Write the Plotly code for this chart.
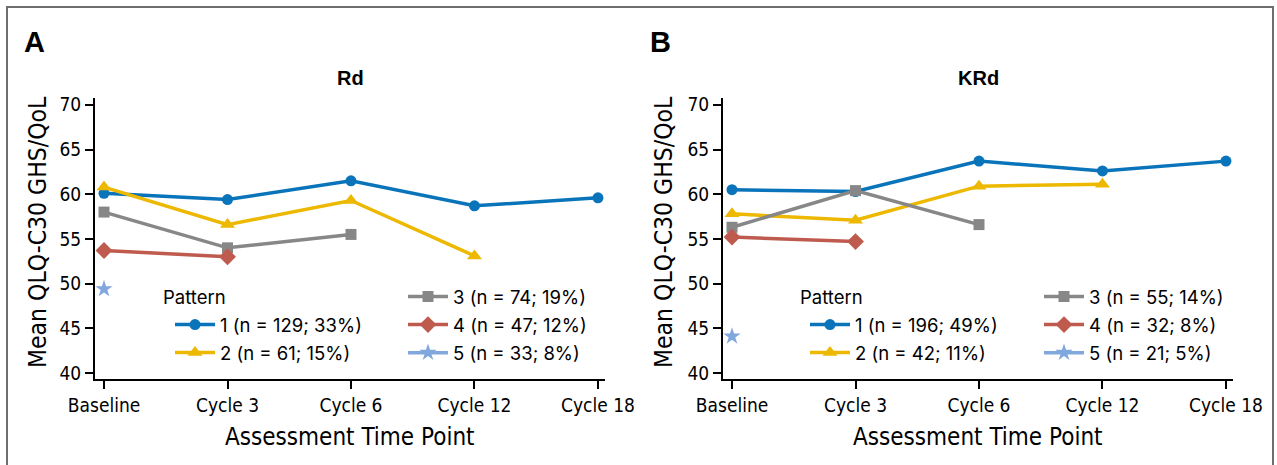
import plotly.graph_objects as go

# ---------------- data ----------------
timepoints = ["Baseline", "Cycle 3", "Cycle 6", "Cycle 12", "Cycle 18"]

# Panel A: Rd
rd_p1 = [60.1, 59.4, 61.5, 58.7, 59.6]
rd_p2 = [60.8, 56.6, 59.3, 53.1, None]
rd_p3 = [58.0, 54.0, 55.5, None, None]
rd_p4 = [53.7, 53.0, None, None, None]
rd_p5 = [49.4, None, None, None, None]
rd_labels = ["1 (n = 129; 33%)", "2 (n = 61; 15%)", "3 (n = 74; 19%)",
             "4 (n = 47; 12%)", "5 (n = 33; 8%)"]

# Panel B: KRd
krd_p1 = [60.5, 60.3, 63.7, 62.6, 63.7]
krd_p2 = [57.8, 57.1, 60.9, 61.1, None]
krd_p3 = [56.3, 60.4, 56.6, None, None]
krd_p4 = [55.2, 54.7, None, None, None]
krd_p5 = [44.1, None, None, None, None]
krd_labels = ["1 (n = 196; 49%)", "2 (n = 42; 11%)", "3 (n = 55; 14%)",
              "4 (n = 32; 8%)", "5 (n = 21; 5%)"]

y_ticks = [40, 45, 50, 55, 60, 65, 70]

# ---------------- styles ----------------
colors = ["#0A74BA", "#EDB800", "#878787", "#BE5B4E", "#80A8DD"]
symbols = ["circle", "triangle-up", "square", "diamond", "star"]
msizes = [11, 13, 11, 13, 13]
NARROW = "Liberation Sans Narrow, DejaVu Sans Condensed, Arial Narrow, sans-serif"
REG = "Inter, Liberation Sans, Arial, sans-serif"
BOLD = "Liberation Sans, Arial, sans-serif"
LEG_SIZE = 18.5

W, H = 1277, 465

def px_x(p):
    return p / W

def px_y(p):
    return 1 - p / H

fig = go.Figure()

panels = [
    ("x", "y", [rd_p1, rd_p2, rd_p3, rd_p4, rd_p5], rd_labels, ("legend", "legend2")),
    ("x2", "y2", [krd_p1, krd_p2, krd_p3, krd_p4, krd_p5], krd_labels, ("legend3", "legend4")),
]

for xa, ya, series, labels, (lg_a, lg_b) in panels:
    for i, (vals, lab) in enumerate(zip(series, labels)):
        xs = [t for t, v in zip(timepoints, vals) if v is not None]
        ys = [v for v in vals if v is not None]
        fig.add_trace(go.Scatter(
            x=xs, y=ys, xaxis=xa, yaxis=ya, name=lab,
            mode="lines+markers",
            line=dict(color=colors[i], width=3.5),
            marker=dict(symbol=symbols[i], size=msizes[i], color=colors[i]),
            legend=lg_a if i < 2 else lg_b,
            legendgroup=f"{xa}{i}",
            showlegend=True,
        ))

axis_common = dict(
    showline=True, linecolor="black", linewidth=2,
    ticks="outside", ticklen=8, tickwidth=1.5, tickcolor="black",
    showgrid=False, zeroline=False, automargin=False,
    tickfont=dict(family=NARROW, size=19, color="black"),
)

xr = [-0.073, 4.057]
yr = [39.33, 70.76]
ydom = [px_y(379), px_y(98)]

fig.update_layout(
    width=W, height=H,
    margin=dict(l=0, r=0, t=0, b=0, autoexpand=False),
    paper_bgcolor="white", plot_bgcolor="white",
    xaxis=dict(domain=[px_x(95), px_x(605)], anchor="y", type="category",
               categoryorder="array", categoryarray=timepoints, range=xr, **axis_common),
    yaxis=dict(domain=ydom, anchor="x", range=yr, tickvals=y_ticks, **axis_common),
    xaxis2=dict(domain=[px_x(723), px_x(1233)], anchor="y2", type="category",
                categoryorder="array", categoryarray=timepoints, range=xr, **axis_common),
    yaxis2=dict(domain=ydom, anchor="x2", range=yr, tickvals=y_ticks, **axis_common),
)

leg_common = dict(
    bgcolor="rgba(0,0,0,0)", borderwidth=0,
    font=dict(family=REG, size=LEG_SIZE, color="black"),
    xanchor="left", yanchor="top", tracegroupgap=1,
    itemwidth=40, orientation="v",
)
fig.update_layout(
    legend=dict(x=px_x(170), y=px_y(306), **leg_common),
    legend2=dict(x=px_x(403), y=px_y(278), **leg_common),
    legend3=dict(x=px_x(805), y=px_y(306), **leg_common),
    legend4=dict(x=px_x(1039), y=px_y(278), **leg_common),
)

annotations = [
    dict(text="<b>A</b>", x=px_x(22), y=px_y(42), font=dict(family=BOLD, size=29)),
    dict(text="<b>B</b>", x=px_x(648), y=px_y(42), font=dict(family=BOLD, size=29)),
    dict(text="<b>Rd</b>", x=px_x(350), y=px_y(78), font=dict(family=BOLD, size=20), xanchor="center"),
    dict(text="<b>KRd</b>", x=px_x(978), y=px_y(78), font=dict(family=BOLD, size=20), xanchor="center"),
    dict(text="Pattern", x=px_x(161), y=px_y(297), font=dict(family=REG, size=LEG_SIZE)),
    dict(text="Pattern", x=px_x(798), y=px_y(297), font=dict(family=REG, size=LEG_SIZE)),
    dict(text="Assessment Time Point", x=px_x(350), y=px_y(437), font=dict(family=NARROW, size=24), xanchor="center"),
    dict(text="Assessment Time Point", x=px_x(978), y=px_y(437), font=dict(family=NARROW, size=24), xanchor="center"),
    dict(text="Mean QLQ-C30 GHS/QoL", x=px_x(37), y=px_y(232), textangle=-90, font=dict(family=NARROW, size=24.5), xanchor="center"),
    dict(text="Mean QLQ-C30 GHS/QoL", x=px_x(663), y=px_y(232), textangle=-90, font=dict(family=NARROW, size=24.5), xanchor="center"),
]
for a in annotations:
    a.setdefault("xanchor", "left")
    a.update(xref="paper", yref="paper", yanchor="middle", showarrow=False)
    a["font"]["color"] = "black"
fig.update_layout(annotations=annotations)

fig.add_shape(type="rect", xref="paper", yref="paper",
              x0=px_x(7), x1=px_x(1273), y0=px_y(475), y1=px_y(7),
              line=dict(color="#6E6E6E", width=2), fillcolor="rgba(0,0,0,0)", layer="below")

fig.write_html("out.html", config={"displayModeBar": False},
               post_script="document.body.style.margin='0';document.body.style.padding='0';")
